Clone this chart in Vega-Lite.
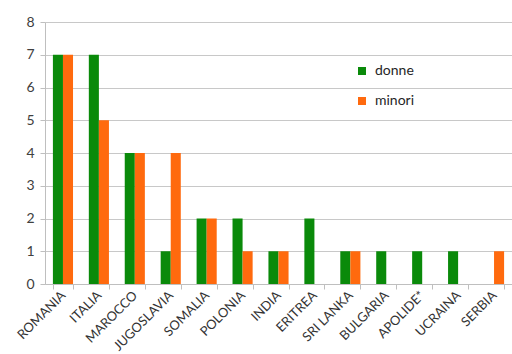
{
  "$schema": "https://vega.github.io/schema/vega-lite/v6.json",
  "width": 467,
  "height": 262,
  "autosize": {"type": "none"},
  "padding": {"left": 45, "top": 22, "right": 0, "bottom": 70},
  "background": "white",
  "data": {
    "values": [
      {"paese": "ROMANIA", "serie": "donne", "valore": 7},
      {"paese": "ROMANIA", "serie": "minori", "valore": 7},
      {"paese": "ITALIA", "serie": "donne", "valore": 7},
      {"paese": "ITALIA", "serie": "minori", "valore": 5},
      {"paese": "MAROCCO", "serie": "donne", "valore": 4},
      {"paese": "MAROCCO", "serie": "minori", "valore": 4},
      {"paese": "JUGOSLAVIA", "serie": "donne", "valore": 1},
      {"paese": "JUGOSLAVIA", "serie": "minori", "valore": 4},
      {"paese": "SOMALIA", "serie": "donne", "valore": 2},
      {"paese": "SOMALIA", "serie": "minori", "valore": 2},
      {"paese": "POLONIA", "serie": "donne", "valore": 2},
      {"paese": "POLONIA", "serie": "minori", "valore": 1},
      {"paese": "INDIA", "serie": "donne", "valore": 1},
      {"paese": "INDIA", "serie": "minori", "valore": 1},
      {"paese": "ERITREA", "serie": "donne", "valore": 2},
      {"paese": "ERITREA", "serie": "minori", "valore": 0},
      {"paese": "SRI LANKA", "serie": "donne", "valore": 1},
      {"paese": "SRI LANKA", "serie": "minori", "valore": 1},
      {"paese": "BULGARIA", "serie": "donne", "valore": 1},
      {"paese": "BULGARIA", "serie": "minori", "valore": 0},
      {"paese": "APOLIDE*", "serie": "donne", "valore": 1},
      {"paese": "APOLIDE*", "serie": "minori", "valore": 0},
      {"paese": "UCRAINA", "serie": "donne", "valore": 1},
      {"paese": "UCRAINA", "serie": "minori", "valore": 0},
      {"paese": "SERBIA", "serie": "donne", "valore": 0},
      {"paese": "SERBIA", "serie": "minori", "valore": 1}
    ]
  },
  "mark": {"type": "bar"},
  "encoding": {
    "x": {
      "field": "paese",
      "type": "nominal",
      "sort": null,
      "title": null,
      "scale": {"paddingInner": 0.44, "paddingOuter": 0.22},
      "axis": {
        "tickBand": "extent",
        "labelAngle": -45,
        "labelAlign": "right",
        "labelBaseline": "middle",
        "labelFont": "Lato",
        "labelFontSize": 13,
        "labelColor": "#333333",
        "labelPadding": 4,
        "labelOverlap": false,
        "tickColor": "#bfbfbf",
        "tickSize": 5,
        "domainColor": "#bfbfbf",
        "grid": false
      }
    },
    "xOffset": {"field": "serie", "type": "nominal", "scale": {"paddingInner": 0, "paddingOuter": 0}},
    "y": {
      "field": "valore",
      "type": "quantitative",
      "title": null,
      "scale": {"domain": [0, 8], "nice": false},
      "axis": {
        "values": [0, 1, 2, 3, 4, 5, 6, 7, 8],
        "labelFont": "Lato",
        "labelFontSize": 14,
        "labelColor": "#404040",
        "labelPadding": 6,
        "tickColor": "#bfbfbf",
        "tickSize": 5,
        "domainColor": "#bfbfbf",
        "gridColor": "#c8c8c8"
      }
    },
    "color": {
      "field": "serie",
      "type": "nominal",
      "scale": {"domain": ["donne", "minori"], "range": ["#0a8a0a", "#ff6a0e"]},
      "legend": {
        "title": null,
        "orient": "none",
        "legendX": 310,
        "legendY": 42,
        "symbolType": "square",
        "symbolSize": 64,
        "symbolStrokeWidth": 0,
        "labelFont": "Lato",
        "labelFontSize": 14,
        "labelColor": "#262626",
        "rowPadding": 16,
        "labelOffset": 6
      }
    }
  },
  "config": {"view": {"stroke": null}}
}
